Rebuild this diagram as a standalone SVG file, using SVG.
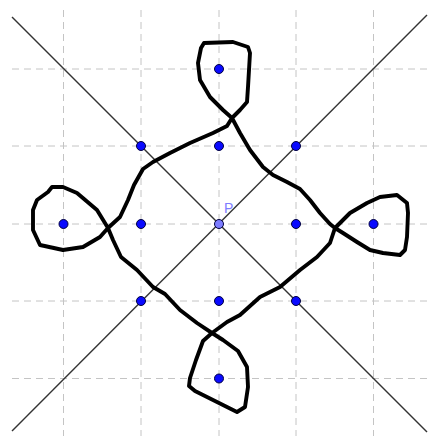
<svg xmlns="http://www.w3.org/2000/svg" width="428" height="436" viewBox="0 0 428 436">
<style>
.grid{stroke:#c4c4c4;stroke-width:1;stroke-dasharray:7 5;fill:none}
.axis{stroke:#333;stroke-width:1.4;fill:none}
.curve{stroke:#000;stroke-width:3.9;fill:none;stroke-linejoin:round;stroke-linecap:round}
.pt{fill:#0a0aff;stroke:#000040;stroke-width:1}
.pp{fill:#7d7dff;stroke:#000040;stroke-width:1}
.lbl{font-family:"Liberation Sans",Arial,sans-serif;font-size:14px;fill:#7d7dff}
</style>
<rect width="428" height="436" fill="#fff"/>
<g id="grid">
<line class="grid" x1="12" y1="69" x2="428" y2="69"/>
<line class="grid" x1="12" y1="146" x2="428" y2="146"/>
<line class="grid" x1="12" y1="224" x2="428" y2="224"/>
<line class="grid" x1="12" y1="301" x2="428" y2="301"/>
<line class="grid" x1="12" y1="378.5" x2="428" y2="378.5"/>
<line class="grid" x1="63.5" y1="10" x2="63.5" y2="436"/>
<line class="grid" x1="141" y1="10" x2="141" y2="436"/>
<line class="grid" x1="219" y1="10" x2="219" y2="436"/>
<line class="grid" x1="296" y1="10" x2="296" y2="436"/>
<line class="grid" x1="373.5" y1="10" x2="373.5" y2="436"/>
</g>
<g id="connectors">
<line class="axis" x1="12" y1="17" x2="427" y2="432"/>
<line class="axis" x1="12" y1="431" x2="427" y2="15"/>
</g>
<g id="curve">
<path class="curve" d="M232,118 L240,133 L250,150 L263,167 L273,175 L287,182 L300,189 L310,200 L320,213 L330,224 L335,228 L343,233 L357,242 L370,250 L383,253 L400,255 L405,250 L407,237 L408,213 L407,203 L397,195 L380,197 L367,203 L350,213 L335,228 L330,243 L317,257 L300,270 L280,287 L260,297 L240,315 L227,322 L212,333 L203,341 L196,360 L190,378 L189,386 L195,391 L217,402 L237,412 L245,407 L248,387 L247,367 L238,351 L223,340 L212,333 L197,323 L180,310 L165,294 L153,287 L137,270 L121,257 L113,240 L108,228 L97,210 L77,193 L63,187 L52,187 L48,192 L37,200 L33,210 L33,230 L40,245 L63,250 L83,247 L100,237 L108,228 L120,217 L128,200 L134,185 L143,169 L153,162 L170,153 L190,143 L213,133 L227,126 L232,118 L240,110 L247,102 L248,87 L250,53 L248,47 L233,42 L204,43 L201,48 L198,63 L200,80 L210,97 L223,110 Z"/>
</g>
<g id="points">
<g id="A"><circle class="pt" cx="219" cy="69" r="4.5"/></g>
<g id="B"><circle class="pt" cx="141" cy="146" r="4.5"/></g>
<g id="C"><circle class="pt" cx="219" cy="146" r="4.5"/></g>
<g id="D"><circle class="pt" cx="296" cy="146" r="4.5"/></g>
<g id="E"><circle class="pt" cx="63.5" cy="224" r="4.5"/></g>
<g id="F"><circle class="pt" cx="141" cy="224" r="4.5"/></g>
<g id="G"><circle class="pt" cx="296" cy="224" r="4.5"/></g>
<g id="H"><circle class="pt" cx="373.5" cy="224" r="4.5"/></g>
<g id="I"><circle class="pt" cx="141" cy="301" r="4.5"/></g>
<g id="J"><circle class="pt" cx="219" cy="301" r="4.5"/></g>
<g id="K"><circle class="pt" cx="296" cy="301" r="4.5"/></g>
<g id="L"><circle class="pt" cx="219" cy="378.5" r="4.5"/></g>
<g id="P"><circle class="pp" cx="219" cy="224" r="4.5"/><text class="lbl" x="224" y="213">P</text></g>
</g>
</svg>
